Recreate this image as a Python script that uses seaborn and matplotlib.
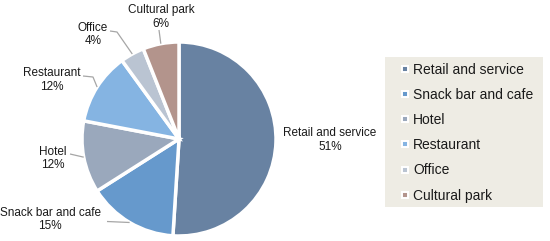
import numpy as np
import matplotlib
matplotlib.use('Agg')
import matplotlib.pyplot as plt
from matplotlib.lines import Line2D
from matplotlib.patches import Rectangle
import seaborn as sns

# chart data
categories = ['Retail and service', 'Snack bar and cafe', 'Hotel', 'Restaurant', 'Office', 'Cultural park']
shares = [51, 15, 12, 12, 4, 6]
colors = ['#6882a2', '#6699cc', '#9aa8bc', '#85b4e2', '#bac4d2', '#b3948c']

sns.set_theme(style='white')
plt.rcParams['font.family'] = ['Liberation Sans', 'DejaVu Sans']

fig = plt.figure(figsize=(5.5, 2.41), dpi=100)
# axes in pixel units so the layout is easy to line up
ax = fig.add_axes([0, 0, 1, 1])

cx, cy, r = 179, 102, 97
wedges, _ = ax.pie(shares, colors=colors, startangle=90, counterclock=False,
                   center=(cx, cy), radius=r,
                   wedgeprops=dict(edgecolor='white', linewidth=2.5))
ax.set_xlim(0, 550)
ax.set_ylim(0, 241)
ax.set_aspect('equal')
ax.axis('off')

# label centres, and leader line start / bend points (None = no line)
label_pos = [(330, 101), (50, 21.5), (53, 82.5), (52, 161), (93, 206.5), (161, 224)]
leader = [None,
          [(107, 19.5)],
          [(70, 87)],
          [(83, 165), (93, 164)],
          [(110, 210), (117, 209)],
          [(159, 211)]]

for w, name, val, pos, pts in zip(wedges, categories, shares, label_pos, leader):
    ax.text(pos[0], pos[1], f'{name}\n{val}%', ha='center', va='center',
            fontsize=8.5, color='#1a1a1a', linespacing=1.2)
    if pts is None:
        continue
    ang = np.deg2rad((w.theta1 + w.theta2) / 2)
    ex = cx + r * np.cos(ang)
    ey = cy + r * np.sin(ang)
    xs = [p[0] for p in pts] + [ex]
    ys = [p[1] for p in pts] + [ey]
    ax.plot(xs, ys, color='#a6a6a6', lw=0.9, solid_capstyle='butt')

# legend box
ax.add_patch(Rectangle((385, 34), 158, 150, facecolor='#eeece4', edgecolor='none', zorder=0))

handles = [Line2D([0], [0], marker='s', linestyle='none', markersize=4,
                  markerfacecolor=c, markeredgecolor='white', markeredgewidth=1.4)
           for c in colors]
fig.legend(handles, categories, loc='upper left', bbox_to_anchor=(401 / 550, 1 - 63 / 241),
           frameon=False, fontsize=10, handlelength=0.6, handletextpad=0.27,
           labelspacing=0.8, borderpad=0, borderaxespad=0, labelcolor='#1a1a1a')

fig.savefig('out.png', dpi=100)
